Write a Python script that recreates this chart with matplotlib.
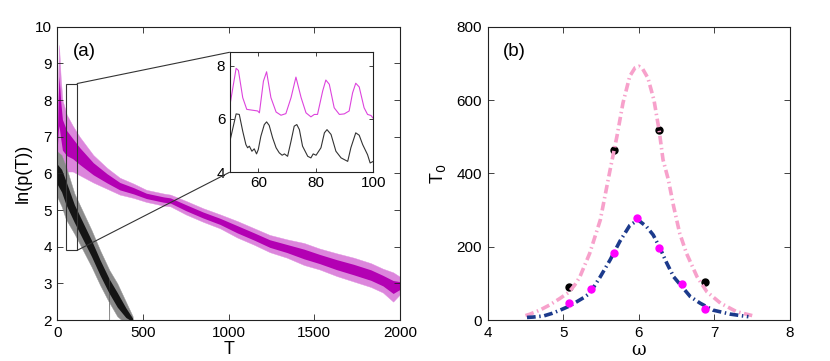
import matplotlib
matplotlib.use("Agg")
import matplotlib.pyplot as plt
from matplotlib.patches import Rectangle, ConnectionPatch

plt.rcParams['font.family'] = ['Liberation Sans', 'DejaVu Sans']

# ---------------- Panel (a): envelopes of the oscillating traces ----------------
mag_T = [0, 5, 10, 20, 30, 55, 90, 130, 210, 290, 365, 445, 520, 620, 660, 750, 850,
         950, 1050, 1150, 1240, 1340, 1440, 1530, 1630, 1730, 1830, 1900, 1960, 2000]
mag_up = [7.0, 8.6, 9.5, 8.6, 8.0, 7.6, 7.3, 7.0, 6.5, 6.15, 5.88, 5.72, 5.55, 5.45, 5.42,
          5.25, 5.05, 4.88, 4.7, 4.5, 4.32, 4.2, 4.1, 3.95, 3.82, 3.7, 3.55, 3.4, 3.3, 3.18]
mag_lo = [6.6, 6.55, 6.45, 6.3, 6.1, 6.05, 6.05, 5.95, 5.75, 5.58, 5.42, 5.33, 5.22, 5.12,
          5.1, 4.88, 4.68, 4.5, 4.25, 4.05, 3.85, 3.7, 3.5, 3.38, 3.2, 3.05, 2.9, 2.75, 2.5, 2.7]

blk_T = [0, 25, 50, 100, 150, 200, 250, 300, 302, 303, 304, 350, 400, 440]
blk_up = [6.6, 6.5, 6.2, 5.45, 4.95, 4.45, 3.9, 3.4, 3.38, 3.37, 3.36, 3.0, 2.5, 2.1]
blk_lo = [5.35, 5.1, 4.75, 4.35, 3.9, 3.45, 2.95, 2.5, 2.48, 1.0, 2.47, 2.1, 1.9, 1.9]

# inset traces (T = 50..100)
ins_mag_T = [50, 52.3, 53.1, 54.6, 56, 59.8, 60.4, 61.8, 62.9, 64.4, 66.2, 67.9, 69.6, 71.4,
             73.1, 74.9, 76.6, 78.3, 79.5, 80.6, 82.4, 83.5, 84.7, 86.4, 88.2, 89.9, 91.6,
             92.8, 93.9, 95.1, 96.8, 98, 99.2, 100]
ins_mag_y = [6.42, 7.9, 7.82, 6.8, 6.36, 6.3, 6.23, 7.42, 7.77, 6.8, 6.26, 6.14, 6.2, 6.8,
             7.57, 6.8, 6.23, 6.08, 6.17, 6.17, 7.05, 7.46, 7.3, 6.42, 6.17, 6.19, 6.3,
             6.98, 7.34, 7.2, 6.42, 6.17, 6.13, 6.02]
ins_blk_T = [50, 52.3, 53.4, 54.6, 55.7, 56.3, 56.9, 57.8, 58.6, 59.4, 60, 60.9, 62.1, 62.9,
             63.8, 65, 66.2, 67.3, 68.3, 69.1, 70.2, 71.4, 72.5, 73.4, 74.3, 75.4, 77.2,
             78.3, 79.1, 80.1, 81.8, 83, 83.9, 85.3, 87, 88.8, 91.1, 92.2, 93.9, 95.1,
             96.3, 98, 98.9, 100]
ins_blk_y = [5.1, 6.19, 6.17, 5.54, 5.04, 4.92, 4.98, 4.79, 4.88, 4.69, 4.85, 5.35, 5.79,
             5.89, 5.76, 5.29, 4.92, 4.73, 4.64, 4.69, 4.6, 5.17, 5.73, 5.79, 5.6, 4.98,
             4.6, 4.54, 4.69, 4.64, 4.92, 5.48, 5.6, 5.42, 4.79, 4.54, 4.41, 4.92, 5.48,
             5.39, 5.04, 4.66, 4.35, 4.41]

# ---------------- Panel (b) ----------------
pink_w = [4.5, 4.56, 4.7, 4.82, 4.95, 5.07, 5.15, 5.22, 5.35, 5.49, 5.62, 5.71, 5.79, 5.88,
          5.95, 6.0, 6.05, 6.12, 6.2, 6.27, 6.32, 6.39, 6.46, 6.54, 6.63, 6.77, 6.9, 7.08,
          7.29, 7.5]
pink_v = [12, 16, 28, 41, 58, 75, 95, 118, 182, 273, 410, 501, 592, 665, 688, 692, 685,
          660, 600, 515, 437, 383, 310, 237, 182, 118, 77, 46, 23, 12]
blue_w = [4.52, 4.6, 4.74, 4.85, 4.96, 5.07, 5.18, 5.27, 5.35, 5.49, 5.62, 5.75, 5.88, 5.99,
          6.1, 6.19, 6.28, 6.37, 6.46, 6.57, 6.68, 6.81, 6.98, 7.21, 7.45]
blue_v = [7, 8, 11, 18, 27, 37, 50, 61, 73, 118, 164, 215, 258, 273, 255, 232, 196, 155,
          118, 91, 64, 46, 27, 16, 9]
black_w = [5.07, 5.67, 6.27, 6.87]
black_v = [91, 464, 517, 103]
magenta_w = [5.07, 5.37, 5.67, 5.97, 6.27, 6.57, 6.87]
magenta_v = [47, 85, 183, 277, 197, 97, 30]

W, H = 830, 361
fig = plt.figure(figsize=(W / 100, H / 100), dpi=100)

def frac(x0, y0, x1, y1):
    return [x0 / W, 1 - y1 / H, (x1 - x0) / W, (y1 - y0) / H]

spine_c = '#222222'

def style(ax, fs=11):
    ax.tick_params(direction='in', top=True, right=True, labelsize=fs, length=4,
                   width=0.6, color=spine_c, pad=4)
    for s in ax.spines.values():
        s.set_color(spine_c)
        s.set_linewidth(0.8)

# main axes (a)
ax = fig.add_axes(frac(57.3, 26.7, 400, 320))
ax.fill_between(mag_T, mag_lo, mag_up, color='#dc86dc', lw=0.3, edgecolor='#e090e0')
mid_hi = [l + 0.72 * (u - l) for l, u in zip(mag_lo, mag_up)]
mid_lo = [l + 0.28 * (u - l) for l, u in zip(mag_lo, mag_up)]
ax.fill_between(mag_T, mid_lo, mid_hi, color='#b300b3', lw=0)
ax.fill_between(blk_T, blk_lo, blk_up, color='#8a8a8a', lw=0.3, edgecolor='#999999')
bmid_hi = [l + 0.72 * (u - l) for l, u in zip(blk_lo, blk_up)]
bmid_lo = [l + 0.28 * (u - l) for l, u in zip(blk_lo, blk_up)]
ax.fill_between(blk_T, bmid_lo, bmid_hi, color='#151515', lw=0)
ax.set_xlim(0, 2000)
ax.set_ylim(2, 10)
ax.set_xticks([0, 500, 1000, 1500, 2000])
ax.set_yticks(range(2, 11))
style(ax)
ax.set_xlabel('T', fontsize=13, labelpad=0)
ax.set_ylabel('ln(p(T))', fontsize=13, labelpad=2)
ax.xaxis.set_label_coords(0.5, -0.07)
ax.yaxis.set_label_coords(-0.074, 0.5)
ax.text(0.046, 0.945, '(a)', transform=ax.transAxes, fontsize=13.5, va='top', ha='left')

rect = Rectangle((50, 3.9), 66, 4.55, fill=False, ec='#333333', lw=0.8, zorder=5)
ax.add_patch(rect)

# inset
axi = fig.add_axes(frac(229.5, 52.3, 373.3, 172.3))
axi.plot(ins_mag_T, ins_mag_y, color='#dd44dd', lw=0.8)
axi.plot(ins_blk_T, ins_blk_y, color='#333333', lw=0.8)
axi.set_xlim(50, 100)
axi.set_ylim(4, 8.5)
axi.set_xticks([60, 80, 100])
axi.set_yticks([4, 6, 8])
style(axi)
axi.tick_params(length=3, pad=3)

for (xa, ya, yb) in [(116, 8.45, 1.0), (116, 3.9, 0.0)]:
    cp = ConnectionPatch(xyA=(xa, ya), coordsA='data', axesA=ax,
                         xyB=(0, yb), coordsB='axes fraction', axesB=axi,
                         color='#333333', lw=0.8)
    fig.add_artist(cp)

# panel (b)
bx = fig.add_axes(frac(487.7, 26.7, 790, 320))
bx.plot(black_w, black_v, 'o', color='black', ms=5, zorder=2)
bx.plot(pink_w, pink_v, color='#f7a1cb', lw=2.6, linestyle=(0, (2.4, 1.0, 0.4, 1.0)), zorder=3)
bx.plot(blue_w, blue_v, color='#1c3a8c', lw=2.6, linestyle=(0, (2.4, 1.0, 0.4, 1.0)), zorder=3)
bx.plot(magenta_w, magenta_v, 'o', color='#ff00ff', ms=5, zorder=4)
bx.set_xlim(4, 8)
bx.set_ylim(0, 800)
bx.set_xticks([4, 5, 6, 7, 8])
bx.set_yticks([0, 200, 400, 600, 800])
style(bx)
bx.set_xlabel('ω', fontsize=13, family=['DejaVu Serif'], labelpad=0)
bx.set_ylabel('T$_0$', fontsize=13, labelpad=2)
bx.xaxis.set_label_coords(0.5, -0.07)
bx.yaxis.set_label_coords(-0.131, 0.5)
bx.text(0.05, 0.945, '(b)', transform=bx.transAxes, fontsize=13.5, va='top', ha='left')

fig.savefig('out.png', dpi=100)
